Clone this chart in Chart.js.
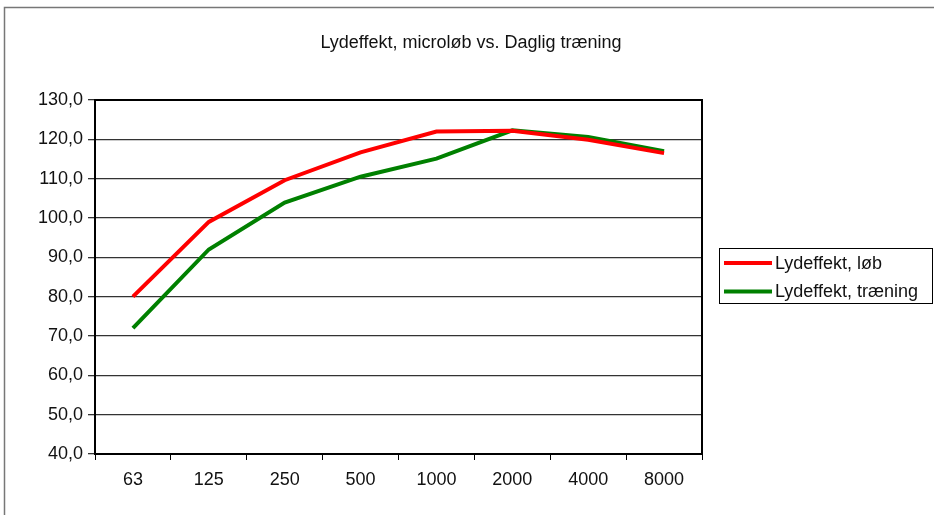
<!DOCTYPE html>
<html>
<head>
<meta charset="utf-8">
<script src="https://cdn.jsdelivr.net/npm/chart.js@4"></script>
<style>
  html, body { margin: 0; padding: 0; background: #fff; }
</style>
</head>
<body>
<canvas id="myChart" width="934" height="515"></canvas>
<script>
/* global Chart */

let labels = ["63", "125", "250", "500", "1000", "2000", "4000", "8000"];
let loeb = [80.0, 99.0, 109.6, 116.7, 122.0, 122.2, 119.9, 116.5];
let traening = [72.0, 92.0, 103.9, 110.5, 115.1, 122.3, 120.6, 117.0];
let title = "Lydeffekt, microløb vs. Daglig træning";
let seriesNames = ["Lydeffekt, løb", "Lydeffekt, træning"];

const font = "'Liberation Sans', Arial, sans-serif";

// outer frame, title centred on the whole frame, top/right plot border and the boxed legend
const extras = {
  id: "extras",
  afterDraw(chart) {
    const c = chart.ctx;
    const a = chart.chartArea;
    c.save();
    c.strokeStyle = "#777";
    c.lineWidth = 1.5;
    c.beginPath();
    c.moveTo(4.5, 515);
    c.lineTo(4.5, 7.5);
    c.lineTo(934, 7.5);
    c.stroke();

    c.font = "18px " + font;
    c.fillStyle = "#111";
    c.textAlign = "center";
    c.textBaseline = "middle";
    c.fillText(title, 471, 43);

    c.strokeStyle = "#000";
    c.lineWidth = 2;
    c.beginPath();
    c.moveTo(a.left, a.top);
    c.lineTo(a.right, a.top);
    c.lineTo(a.right, a.bottom);
    c.stroke();

    // legend
    c.lineWidth = 1;
    c.strokeRect(719.5, 248.5, 213, 55);
    c.textAlign = "left";
    chart.data.datasets.forEach(function (ds, i) {
      const y = 263 + i * 28.5;
      c.strokeStyle = ds.borderColor;
      c.lineWidth = 4;
      c.beginPath();
      c.moveTo(724, y);
      c.lineTo(772, y);
      c.stroke();
      c.fillText(ds.label, 775, y + 1);
    });
    c.restore();
  },
};

const ctx = document.getElementById("myChart");
const myChart = new Chart(ctx, {
  type: "line",
  data: {
    labels: labels,
    datasets: [
      {
        label: seriesNames[0],
        data: loeb,
        borderColor: "#ff0000",
        borderWidth: 4,
        pointRadius: 0,
        tension: 0,
      },
      {
        label: seriesNames[1],
        data: traening,
        borderColor: "#008000",
        borderWidth: 4,
        pointRadius: 0,
        tension: 0,
      },
    ],
  },
  plugins: [extras],
  options: {
    responsive: false,
    animation: false,
    layout: { padding: { left: 0, right: 232, top: 100, bottom: 0 } },
    plugins: {
      legend: { display: false },
      tooltip: { enabled: false },
      title: { display: false },
    },
    scales: {
      x: {
        offset: true,
        grid: {
          offset: true,
          drawOnChartArea: false,
          tickLength: 6,
          color: "#000",
        },
        border: { display: true, color: "#000", width: 2 },
        ticks: {
          color: "#111",
          font: { family: font, size: 18 },
          padding: 9,
          maxRotation: 0,
        },
        afterFit(scale) {
          scale.height = 61;
        },
      },
      y: {
        min: 40,
        max: 130,
        grid: { color: "#333", lineWidth: 1.3, tickLength: 7 },
        border: { display: true, color: "#000", width: 2 },
        ticks: {
          stepSize: 10,
          color: "#111",
          padding: 5,
          font: { family: font, size: 18 },
          callback: function (v) {
            return v.toFixed(1).replace(".", ",");
          },
        },
        afterFit(scale) {
          scale.width = 95;
        },
      },
    },
  },
});
</script>
</body>
</html>
